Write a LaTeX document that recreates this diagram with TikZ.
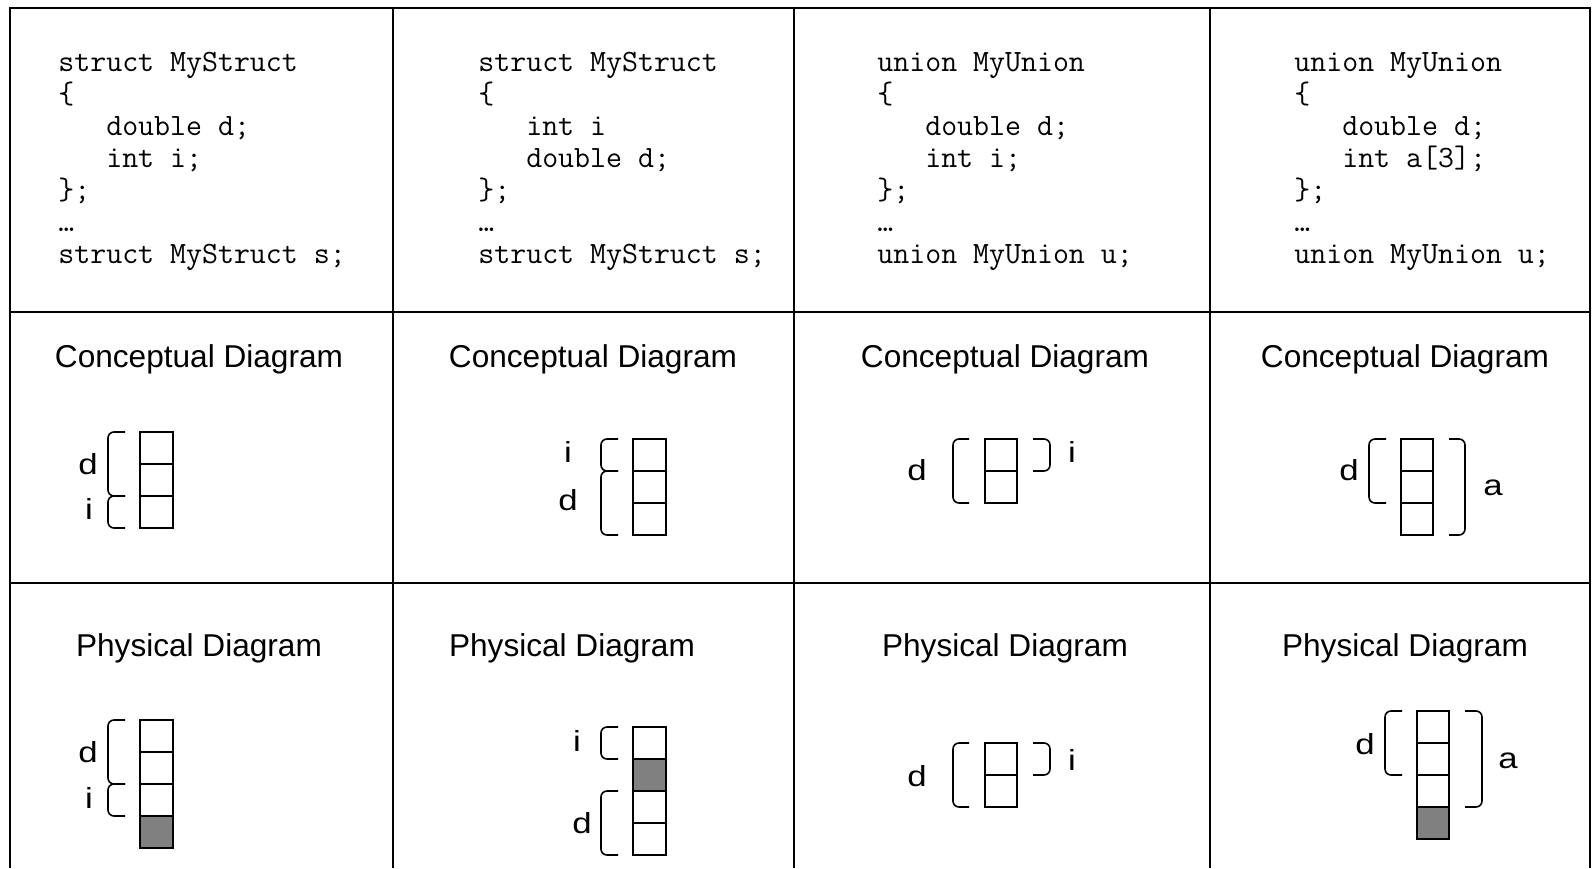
\documentclass[tikz,border=0pt]{standalone}
\usepackage{fontspec}
\setmainfont{Liberation Sans}
\newfontfamily\lblfont[FakeStretch=1.2]{Liberation Sans}
\usepackage{tikz}
\usepackage{xcolor}
\definecolor{padgray}{RGB}{128,128,128}
\newcommand{\ind}{\phantom{xxx}}

\begin{document}
\begin{tikzpicture}[
  x=0.5pt, y=-0.5pt,
  grid/.style={draw=black, line width=1pt},
  code/.style={anchor=base west, inner sep=0pt, font=\ttfamily\fontsize{15.5pt}{16pt}\selectfont},
  title/.style={anchor=base, inner sep=0pt, font=\fontsize{15.8pt}{19pt}\selectfont},
  lbl/.style={inner sep=0pt, font=\lblfont\fontsize{14.5pt}{16pt}\selectfont},
  cell/.style={draw=black, line width=1pt, fill=white},
  pad/.style={cell, fill=padgray},
  brk/.style={draw=black, line width=0.8pt, rounded corners=3pt}
]
\useasboundingbox (0,0) rectangle (1594,868);

% table
\draw[grid] (10,868) -- (10,8) -- (1590,8) -- (1590,868);
\foreach \x in {393,794,1210}
  \draw[grid] (\x,8) -- (\x,868);
\foreach \y in {312,583}
  \draw[grid] (10,\y) -- (1590,\y);

% declarations
\foreach \ln [count=\k] in {struct MyStruct, \{, \ind double d;, \ind int i;, \};, \textellipsis, struct MyStruct s;}
  \node[code] (codeA\k) at (58,{71+32*(\k-1)}) {\ln};
\foreach \ln [count=\k] in {struct MyStruct, \{, \ind int i, \ind double d;, \};, \textellipsis, struct MyStruct s;}
  \node[code] (codeB\k) at (478,{71+32*(\k-1)}) {\ln};
\foreach \ln [count=\k] in {union MyUnion, \{, \ind double d;, \ind int i;, \};, \textellipsis, union MyUnion u;}
  \node[code] (codeC\k) at (877,{71+32*(\k-1)}) {\ln};
\foreach \ln [count=\k] in {union MyUnion, \{, \ind double d;, \ind int a[3];, \};, \textellipsis, union MyUnion u;}
  \node[code] (codeD\k) at (1294,{71+32*(\k-1)}) {\ln};

% row titles
\foreach \x/\n in {199/A,593/B,1005/C,1405/D}
  \node[title] (concept\n) at (\x,367) {Conceptual Diagram};
\foreach \x/\n in {199/A,572/B,1005/C,1405/D}
  \node[title] (phys\n) at (\x,656) {Physical Diagram};

% conceptual: struct d,i
\foreach \k in {0,1,2}
  \draw[cell] (140,{432+32*\k}) rectangle ++(33,32);
\draw[brk] (125,432) -- (108,432) -- (108,496) -- (125,496);
\draw[brk] (125,496) -- (108,496) -- (108,528) -- (125,528);
\node[lbl] (cdA) at (88,464) {d};
\node[lbl] (ciA) at (89,509) {i};

% conceptual: struct i,d
\foreach \k in {0,1,2}
  \draw[cell] (633,{439+32*\k}) rectangle ++(33,32);
\draw[brk] (618,439) -- (601,439) -- (601,471) -- (618,471);
\draw[brk] (618,471) -- (601,471) -- (601,535) -- (618,535);
\node[lbl] (ciB) at (568,452) {i};
\node[lbl] (cdB) at (568,500) {d};

% conceptual: union d,i
\foreach \k in {0,1}
  \draw[cell] (985,{439+32*\k}) rectangle ++(32,32);
\draw[brk] (969,439) -- (953,439) -- (953,503) -- (969,503);
\draw[brk] (1033,439) -- (1050,439) -- (1050,471) -- (1033,471);
\node[lbl] (cdC) at (917,470) {d};
\node[lbl] (ciC) at (1072,452) {i};

% conceptual: union d,a
\foreach \k in {0,1,2}
  \draw[cell] (1401,{439+32*\k}) rectangle ++(32,32);
\draw[brk] (1386,439) -- (1369,439) -- (1369,503) -- (1386,503);
\draw[brk] (1449,439) -- (1465,439) -- (1465,535) -- (1449,535);
\node[lbl] (cdD) at (1349,470) {d};
\node[lbl] (caD) at (1493,488) {a};

% physical: struct d,i + padding
\foreach \k in {0,1,2}
  \draw[cell] (140,{720+32*\k}) rectangle ++(33,32);
\draw[pad] (140,816) rectangle ++(33,32);
\draw[brk] (125,720) -- (108,720) -- (108,784) -- (125,784);
\draw[brk] (125,784) -- (108,784) -- (108,816) -- (125,816);
\node[lbl] (pdA) at (88,752) {d};
\node[lbl] (piA) at (89,798) {i};

% physical: struct i + padding + d
\foreach \k in {0,2,3}
  \draw[cell] (633,{727+32*\k}) rectangle ++(33,32);
\draw[pad] (633,759) rectangle ++(33,32);
\draw[brk] (618,727) -- (601,727) -- (601,759) -- (618,759);
\draw[brk] (618,791) -- (601,791) -- (601,855) -- (618,855);
\node[lbl] (piB) at (577,741) {i};
\node[lbl] (pdB) at (582,823) {d};

% physical: union d,i
\foreach \k in {0,1}
  \draw[cell] (985,{743+32*\k}) rectangle ++(32,32);
\draw[brk] (969,743) -- (953,743) -- (953,807) -- (969,807);
\draw[brk] (1033,743) -- (1050,743) -- (1050,775) -- (1033,775);
\node[lbl] (pdC) at (917,776) {d};
\node[lbl] (piC) at (1072,760) {i};

% physical: union d,a + padding
\foreach \k in {0,1,2}
  \draw[cell] (1417,{711+32*\k}) rectangle ++(32,32);
\draw[pad] (1417,807) rectangle ++(32,32);
\draw[brk] (1402,711) -- (1385,711) -- (1385,775) -- (1402,775);
\draw[brk] (1465,711) -- (1482,711) -- (1482,807) -- (1465,807);
\node[lbl] (pdD) at (1365,744) {d};
\node[lbl] (paD) at (1508,761) {a};

\end{tikzpicture}
\end{document}
